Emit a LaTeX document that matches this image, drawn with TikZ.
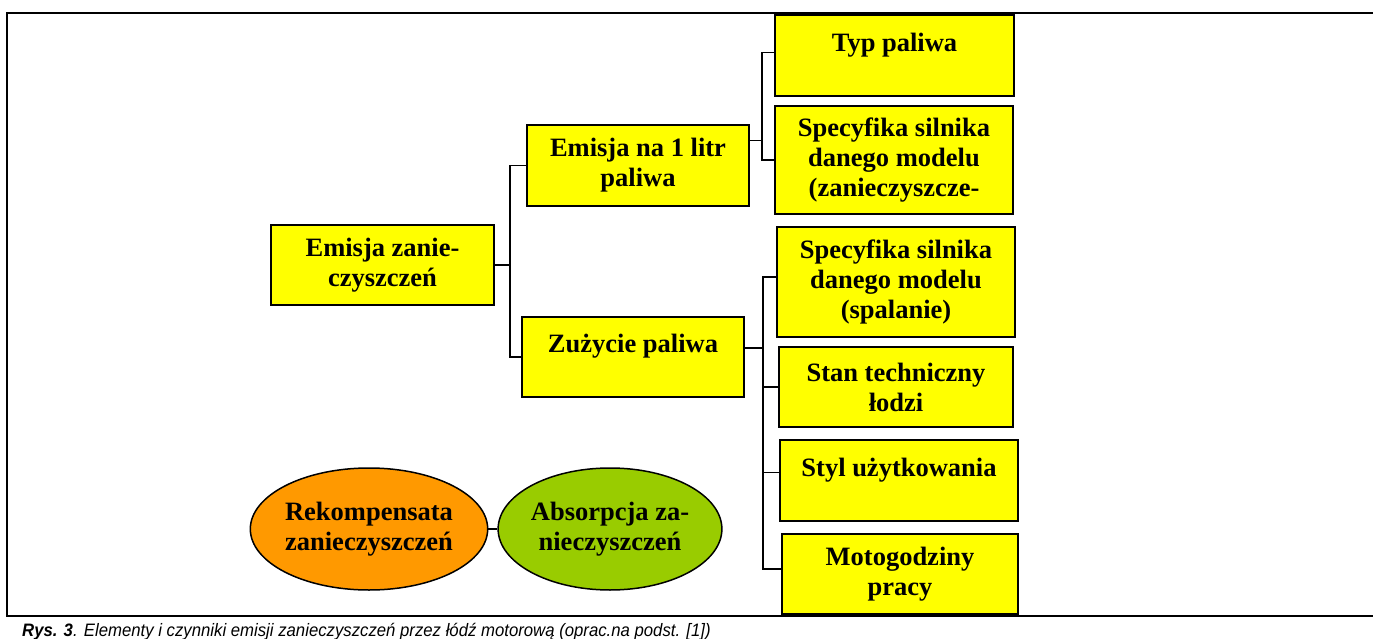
\documentclass[tikz,border=0pt]{standalone}
\usepackage{fontspec}
\setmainfont{Liberation Serif}
\newfontfamily\capfont{Liberation Sans}
\usetikzlibrary{shapes.geometric}

\definecolor{boxyellow}{HTML}{FFFF00}
\definecolor{rekorange}{HTML}{FF9900}
\definecolor{absgreen}{HTML}{99CC00}

\begin{document}
\begin{tikzpicture}[x=1pt,y=1pt]
\tikzstyle{every node}+=[inner sep=0pt]
\tikzstyle{factor}=[draw=black, line width=1.5pt, fill=boxyellow, align=center, font=\fontsize{26.5}{30}\selectfont\bfseries]
\tikzstyle{blob}=[ellipse, draw=black, line width=1.5pt, align=center, minimum width=220pt, minimum height=122pt, font=\fontsize{26.5}{30}\selectfont\bfseries]
\tikzstyle{wire}=[black, line width=1.6pt]
\useasboundingbox (0,0) rectangle (1373,-639);
\draw [black, line width=2pt] (1373,-13) -- (7,-13) -- (7,-616) -- (1373,-616);
\node [factor, minimum width=223pt, minimum height=80pt] (root) at (382.5,-265) {Emisja zanie-\\czyszczeń};
\node [factor, minimum width=222pt, minimum height=81pt] (e1l) at (638,-165.5) {Emisja na 1 litr\\paliwa};
\node [factor, minimum width=222pt, minimum height=80pt] (zuz) at (633,-357) {Zużycie paliwa\\[-3pt]\mbox{}};
\node [factor, minimum width=239pt, minimum height=81pt] (typ) at (894.5,-55.5) {Typ paliwa\\[-3pt]\mbox{}};
\node [factor, minimum width=238pt, minimum height=108pt] (sp1) at (894,-160) {Specyfika silnika\\danego modelu\\(zanieczyszcze-};
\node [factor, minimum width=238pt, minimum height=110pt] (sp2) at (896,-282) {Specyfika silnika\\danego modelu\\(spalanie)};
\node [factor, minimum width=234pt, minimum height=80pt] (stan) at (896,-387) {Stan techniczny\\łodzi};
\node [factor, minimum width=238pt, minimum height=81pt] (styl) at (899,-480.5) {Styl użytkowania\\[-3pt]\mbox{}};
\node [factor, minimum width=236pt, minimum height=80pt] (moto) at (900,-574) {Motogodziny\\pracy};
\node [blob, fill=rekorange] (rek) at (369,-529) {Rekompensata\\zanieczyszczeń};
\node [blob, fill=absgreen] (abs) at (610,-529) {Absorpcja za-\\nieczyszczeń};
\draw [wire] (root.east) -- ++(15,0) |- (e1l.west);
\draw [wire] (root.east) -- ++(15,0) |- (zuz.west);
\draw [wire] ([yshift=25pt]e1l.east) -- ++(12,0) |- ([yshift=3pt]typ.west);
\draw [wire] ([yshift=25pt]e1l.east) -- ++(12,0) |- (sp1.west);
\draw [wire] ([yshift=9pt]zuz.east) -- ++(18,0) |- ([yshift=5pt]sp2.west);
\draw [wire] ([yshift=9pt]zuz.east) -- ++(18,0) |- (stan.west);
\draw [wire] ([yshift=9pt]zuz.east) -- ++(18,0) |- ([yshift=8pt]styl.west);
\draw [wire] ([yshift=9pt]zuz.east) -- ++(18,0) |- ([yshift=5pt]moto.west);
\draw [wire] (rek.east) -- (abs.west);
\node [anchor=base west, font=\capfont\itshape\fontsize{18}{20}\selectfont] (cap) at (22,-636) {\scalebox{0.93}[1]{\textbf{Rys. 3}. Elementy i czynniki emisji zanieczyszczeń przez łódź motorową (oprac.na podst. [1])}};
\end{tikzpicture}
\end{document}
